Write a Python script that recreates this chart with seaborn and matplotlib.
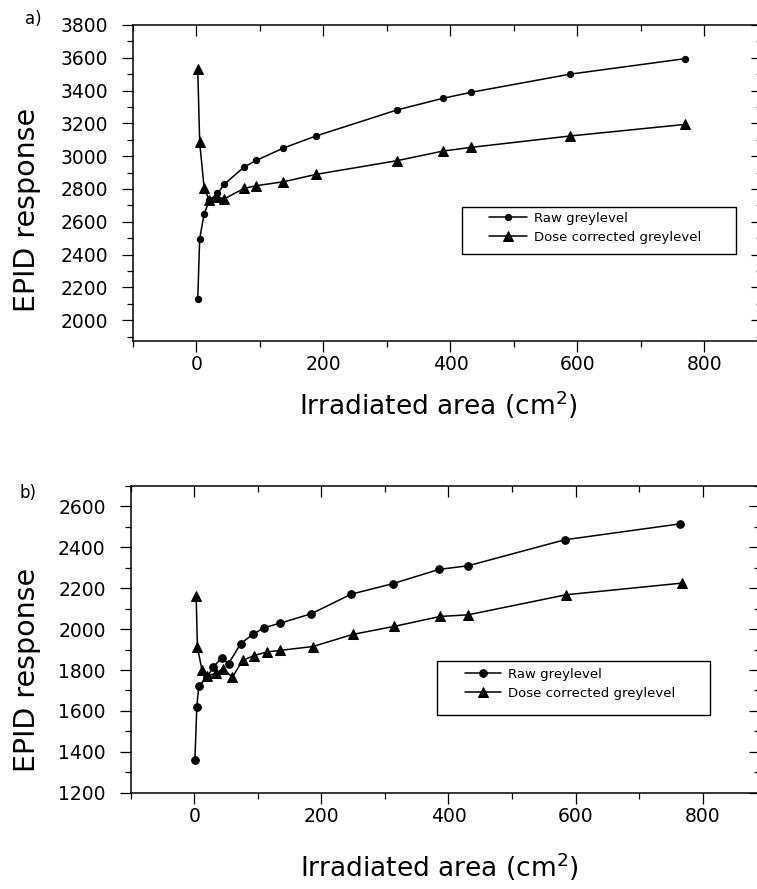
import matplotlib
matplotlib.use("Agg")
import matplotlib.pyplot as plt
from matplotlib.patches import Rectangle
from matplotlib.ticker import MultipleLocator
import seaborn as sns

# ---- panel a) ----
area_a = [2, 5, 12, 20, 33, 44, 75, 94, 137, 188, 315, 388, 433, 588, 770]
raw_a = [2130, 2496, 2647, 2730, 2773, 2830, 2934, 2974, 3050, 3123, 3281, 3353, 3390, 3500, 3595]
dose_a = [3530, 3086, 2807, 2732, 2750, 2740, 2804, 2820, 2844, 2889, 2972, 3031, 3054, 3123, 3194]

# ---- panel b) ----
area_b_raw = [1, 4, 7, 20, 30, 43, 54, 73, 92, 110, 135, 184, 247, 312, 385, 431, 583, 765]
raw_b = [1360, 1618, 1720, 1765, 1814, 1860, 1831, 1929, 1974, 2007, 2029, 2075, 2171, 2222, 2292, 2310, 2437, 2515]
area_b_dose = [3, 5, 12, 20, 34, 45, 60, 76, 94, 114, 135, 187, 249, 314, 387, 431, 585, 767]
dose_b = [2160, 1912, 1802, 1769, 1785, 1806, 1765, 1847, 1871, 1888, 1896, 1915, 1974, 2013, 2062, 2070, 2168, 2225]

xticks = [0, 200, 400, 600, 800]
yticks_a = [2000, 2200, 2400, 2600, 2800, 3000, 3200, 3400, 3600, 3800]
yticks_b = [1200, 1400, 1600, 1800, 2000, 2200, 2400, 2600]
series_names = ["Raw greylevel", "Dose corrected greylevel"]

sns.set_style("ticks")
plt.rcParams["font.family"] = ["DejaVu Sans"]
plt.rcParams["mathtext.default"] = "regular"
plt.rcParams["text.color"] = "black"
plt.rcParams["axes.labelcolor"] = "black"

W, H = 757, 889
fig = plt.figure(figsize=(W / 100, H / 100), dpi=100)
fig.patch.set_facecolor("white")


def px_axes(left, top, right, bottom):
    return fig.add_axes([left / W, 1 - bottom / H, (right - left) / W, (bottom - top) / H])


def style_axes(ax, yticks, ylim):
    ax.set_xlim(-100, 890)
    ax.set_ylim(*ylim)
    ax.set_xticks(xticks)
    ax.set_yticks(yticks)
    ax.xaxis.set_minor_locator(MultipleLocator(100))
    ax.yaxis.set_minor_locator(MultipleLocator(100))
    for side in ("top", "right", "bottom", "left"):
        ax.spines[side].set_visible(True)
        ax.spines[side].set_linewidth(1.1)
        ax.spines[side].set_color("black")
    ax.tick_params(which="both", top=True, right=True, bottom=True, left=True,
                   direction="out", width=0.9, colors="black", labelcolor="black")
    ax.tick_params(which="major", length=8, labelsize=13.5)
    ax.tick_params(which="minor", length=4)
    ax.tick_params(axis="y", which="major", pad=10)
    ax.tick_params(axis="x", which="major", pad=2)
    # ticks on the top and right spines point into the plot
    for t in ax.xaxis.get_major_ticks() + ax.xaxis.get_minor_ticks():
        t.tick2line.set_marker(3)
    for t in ax.yaxis.get_major_ticks() + ax.yaxis.get_minor_ticks():
        t.tick2line.set_marker(0)


def draw_series(ax, x, y, marker, ms, label):
    sns.lineplot(x=x, y=y, ax=ax, color="black", marker=marker, markersize=ms,
                 markeredgecolor="black", linewidth=1.1, estimator=None, sort=False,
                 label=label)


# ---------- panel a ----------
ax1 = px_axes(133, 25, 761.6, 341.5)
draw_series(ax1, area_a, raw_a, "o", 4.5, series_names[0])
draw_series(ax1, area_a, dose_a, "^", 7, series_names[1])
style_axes(ax1, yticks_a, (1870, 3800))

# ---------- panel b ----------
ax2 = px_axes(130.7, 486, 759.9, 792.7)
draw_series(ax2, area_b_raw, raw_b, "o", 5.5, series_names[0])
draw_series(ax2, area_b_dose, dose_b, "^", 7, series_names[1])
style_axes(ax2, yticks_b, (1200, 2700))

for ax, box, anchor, hl in (
    (ax1, (0.524, 0.2755, 0.436, 0.1505), (0.566, 0.409), 2.9),
    (ax2, (0.487, 0.253, 0.434, 0.176), (0.532, 0.407), 2.7),
):
    ax.legend(loc="upper left", bbox_to_anchor=anchor, frameon=False, fontsize=9.5,
              borderpad=0, borderaxespad=0, handlelength=hl, handletextpad=0.5,
              labelspacing=0.45)
    ax.add_patch(Rectangle(box[:2], box[2], box[3], transform=ax.transAxes,
                           fill=False, edgecolor="black", linewidth=1.0, zorder=5))
    ax.set_xlabel("Irradiated area (cm$^2$)", fontsize=19)
    ax.set_ylabel("EPID response", fontsize=20.5)
    ax.xaxis.label.set_va("center")
    ax.yaxis.label.set_va("center")

ax1.xaxis.set_label_coords(0.485, -0.2)
ax1.yaxis.set_label_coords((26.5 - 133) / 628.6, 1 - (209.5 - 25) / 316.5)
ax2.xaxis.set_label_coords(0.49, -0.24)
ax2.yaxis.set_label_coords((27.5 - 130.7) / 629.2, 1 - (670 - 486) / 306.7)

fig.text(33 / W, 1 - 19 / H, "a)", fontsize=12, ha="center", va="center")
fig.text(28 / W, 1 - 493 / H, "b)", fontsize=12, ha="center", va="center")

fig.savefig("out.png", dpi=100, facecolor="white")
